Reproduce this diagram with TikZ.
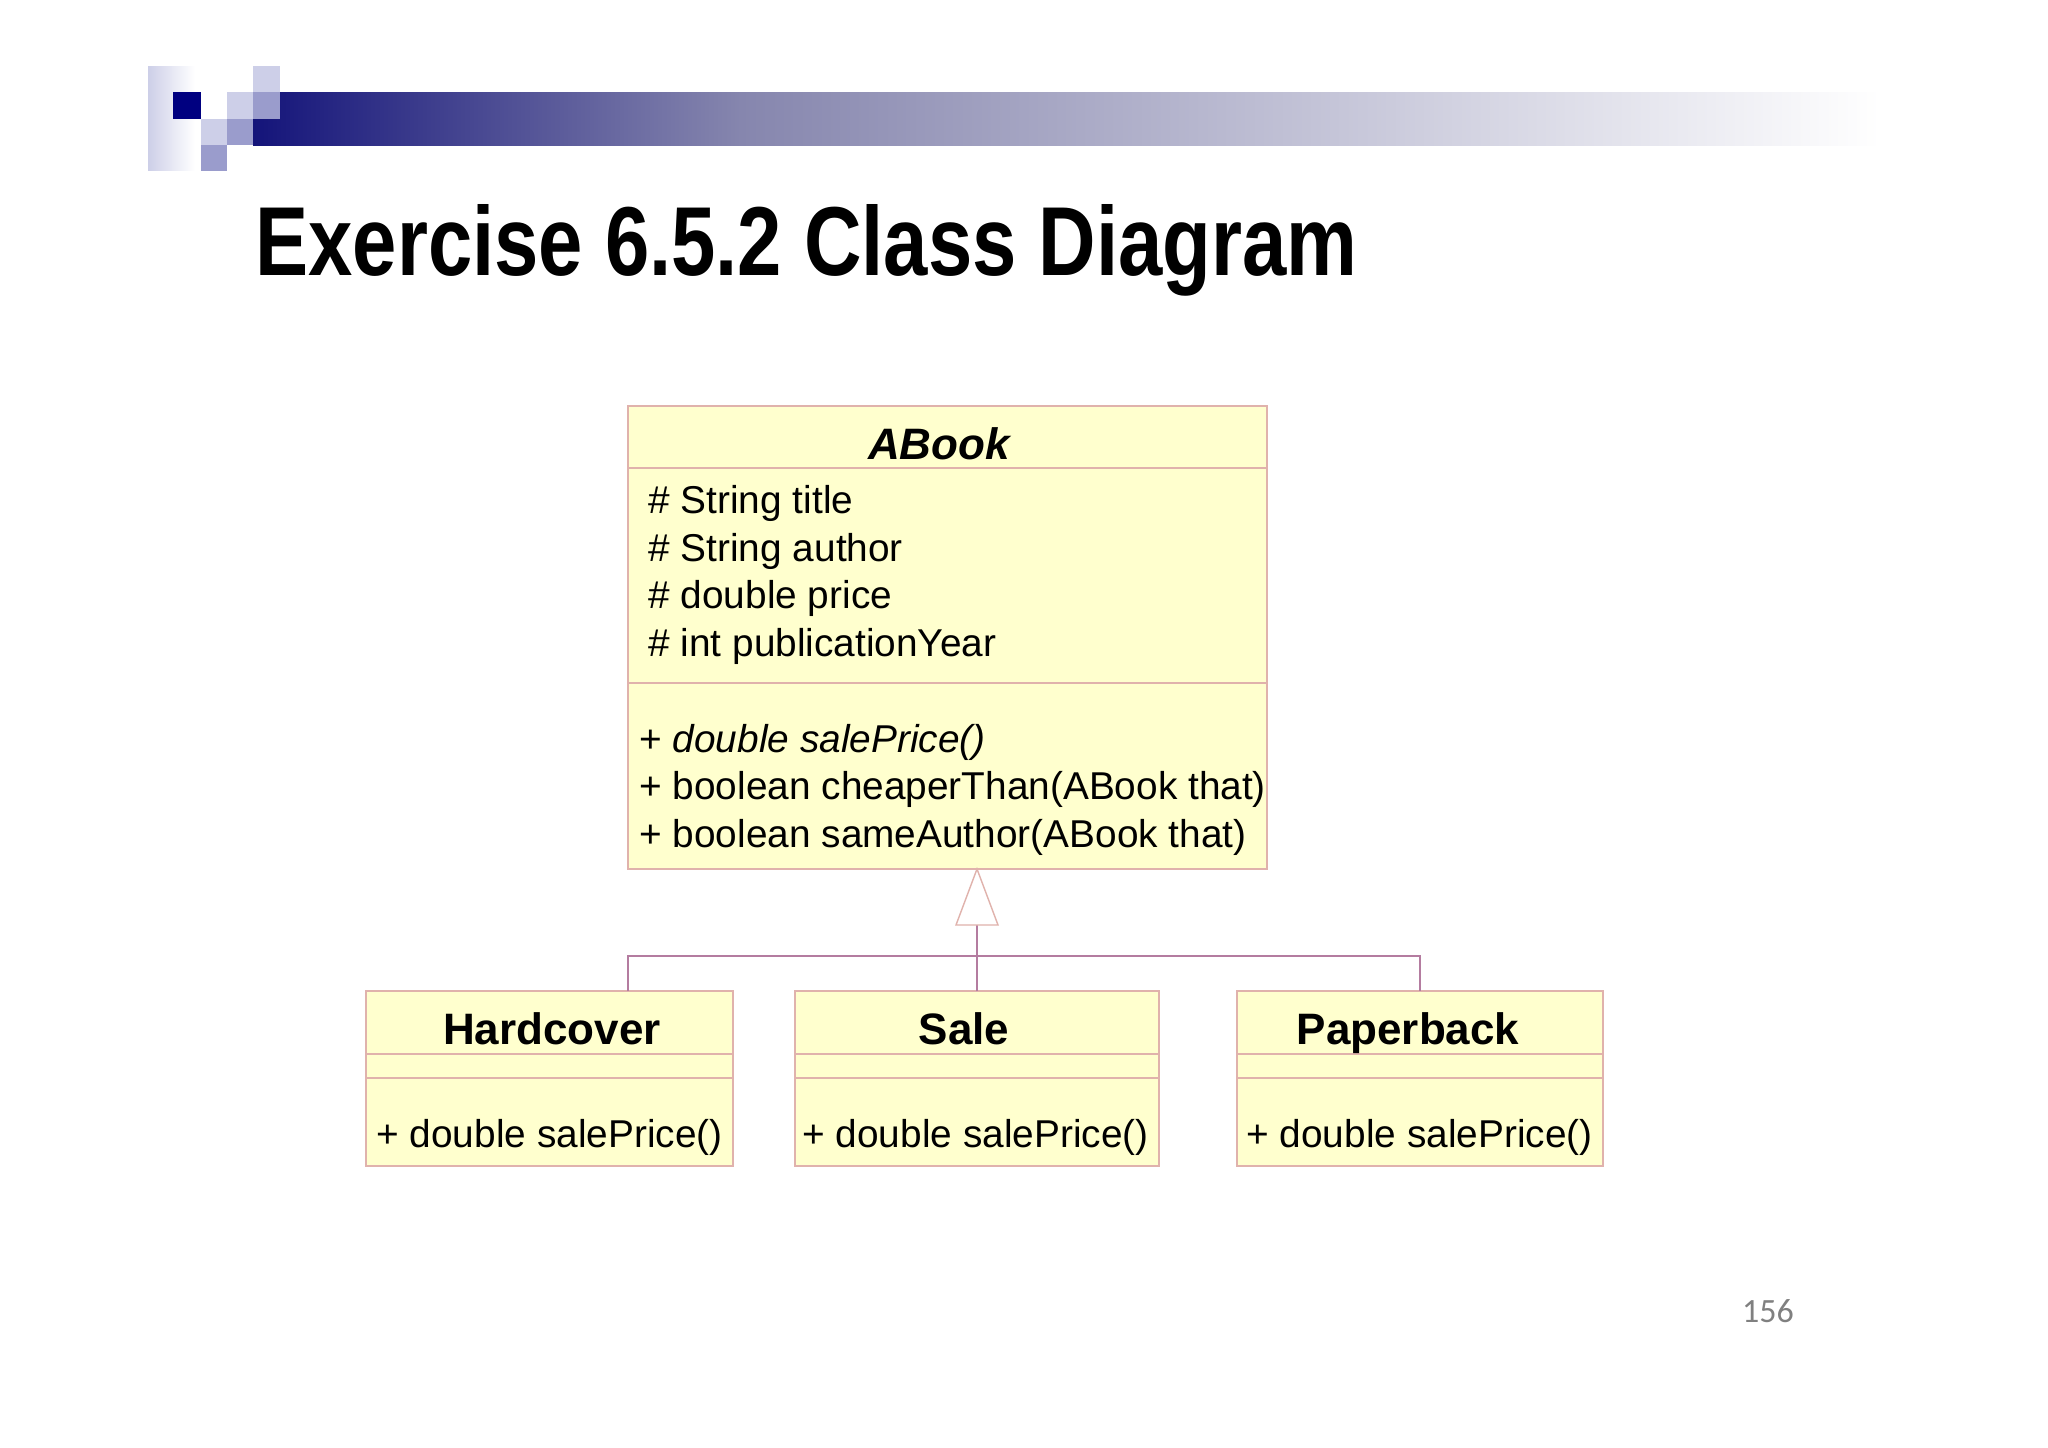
\documentclass[tikz,border=0pt]{standalone}
\usepackage{fontspec}
\setmainfont{Liberation Sans}
\newfontfamily\numfont{Carlito}
\usepackage{graphicx}
\definecolor{navy}{HTML}{14147A}
\definecolor{barmid}{HTML}{8686AE}
\definecolor{sqlight}{HTML}{CDCFE8}
\definecolor{sqmed}{HTML}{9A9CCC}
\definecolor{sqdark}{HTML}{000080}
\definecolor{boxfill}{HTML}{FFFFCE}
\definecolor{boxline}{HTML}{E0B2AC}
\definecolor{connline}{HTML}{B47CA0}
\definecolor{pagenum}{HTML}{808080}
\pgfdeclarehorizontalshading{barshade}{100bp}{color(0bp)=(navy); color(25bp)=(navy); color(40bp)=(barmid); color(75bp)=(white); color(100bp)=(white)}
\pgfdeclarehorizontalshading{tallshade}{100bp}{color(0bp)=(sqlight); color(25bp)=(sqlight); color(75bp)=(white); color(100bp)=(white)}
\begin{document}
\begin{tikzpicture}[x=0.5pt,y=-0.5pt,
  umlbox/.style={draw=boxline, fill=boxfill, line width=0.7pt, inner sep=0pt, outer sep=0pt},
  sepline/.style={draw=boxline, line width=0.6pt},
  conn/.style={draw=connline, line width=0.7pt},
  umltext/.style={inner sep=0pt, anchor=base west, font=\fontsize{19.4}{24}\selectfont},
  umlname/.style={inner sep=0pt, anchor=base, font=\bfseries\fontsize{22}{26}\selectfont},
]
\useasboundingbox (0,0) rectangle (2048,1447);
\fill[white] (0,0) rectangle (2048,1447);
% logo
\shade[shading=tallshade] (148,66) rectangle (195,170);
\shade[shading=barshade] (253,92) rectangle (1880,145);
\fill[sqdark] (173,92) rectangle (201,119);
\fill[sqlight] (253,66) rectangle (280,92);
\fill[sqlight] (227,92) rectangle (253,119);
\fill[sqlight] (201,119) rectangle (227,145);
\fill[sqmed] (253,92) rectangle (280,119);
\fill[sqmed] (227,119) rectangle (253,145);
\fill[sqmed] (201,145) rectangle (227,171);
% title
\node[inner sep=0pt, anchor=base west] (title) at (255,275)
  {\bfseries\fontsize{49}{54}\selectfont\scalebox{0.8125}[1]{Exercise 6.5.2 Class Diagram}};
% classes
\node[umlbox, minimum width=319.5pt, minimum height=231.5pt] (abook) at (947.5,637.5) {};
\node[umlbox, minimum width=183.5pt, minimum height=87.5pt] (hard) at (549.5,1078.5) {};
\node[umlbox, minimum width=182pt, minimum height=87.5pt] (sale) at (977,1078.5) {};
\node[umlbox, minimum width=183pt, minimum height=87.5pt] (paper) at (1420,1078.5) {};
\draw[sepline] (abook.west |- 0,468) -- (abook.east |- 0,468);
\draw[sepline] (abook.west |- 0,683) -- (abook.east |- 0,683);
\foreach \b in {hard,sale,paper}{
  \draw[sepline] (\b.west |- 0,1054) -- (\b.east |- 0,1054);
  \draw[sepline] (\b.west |- 0,1078) -- (\b.east |- 0,1078);
}
\node[umlname] (abookname) at (939,459) {\itshape ABook};
\node[umltext] (a1) at (648,513) {\# String title};
\node[umltext] (a2) at (648,561) {\# String author};
\node[umltext] (a3) at (648,608) {\# double price};
\node[umltext] (a4) at (648,656) {\# int publicationYear};
\node[umltext] (m1) at (639,752) {+ \itshape double salePrice()};
\node[umltext] (m2) at (639,799) {+ boolean cheaperThan(ABook that)};
\node[umltext] (m3) at (639,847) {+ boolean sameAuthor(ABook that)};
\node[umlname] (hardname) at (552,1044) {Hardcover};
\node[umlname] (salename) at (964,1044) {Sale};
\node[umlname] (papername) at (1408,1044) {Paperback};
\node[umltext] (hm) at (376,1147) {+ double salePrice()};
\node[umltext] (sm) at (802,1147) {+ double salePrice()};
\node[umltext] (pm) at (1246,1147) {+ double salePrice()};
% generalization
\coordinate (apex) at (abook.south -| sale.north);
\coordinate (tribase) at (977,925);
\coordinate (hjoin) at (628,956);
\draw[conn] (sale.north) -- (tribase);
\draw[conn] (hard.north -| hjoin) -- (hjoin) -- (hjoin -| paper.north) -- (paper.north);
\draw[conn, fill=white, draw=boxline] (tribase) ++(-21,0) -- (apex) -- ++(21,56) -- cycle;
% page number
\node[inner sep=0pt, anchor=base, text=pagenum, font=\numfont\fontsize{17}{20}\selectfont] (pnum) at (1768,1322) {156};
\end{tikzpicture}
\end{document}
